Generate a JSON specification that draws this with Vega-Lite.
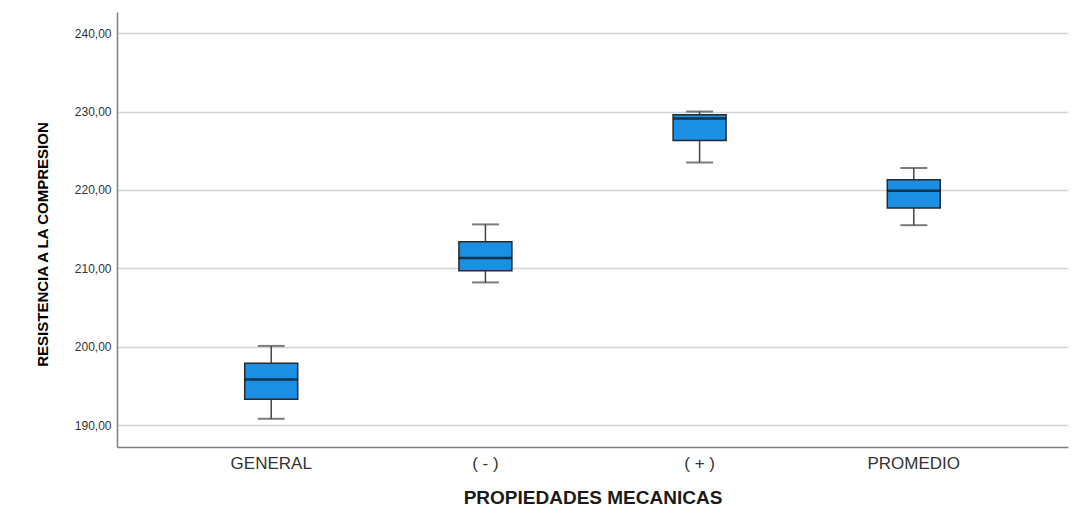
{
  "$schema": "https://vega.github.io/schema/vega-lite/v6.json",
  "autosize": "none",
  "width": 951,
  "height": 435,
  "padding": {"left": 117, "top": 12, "right": 12, "bottom": 71},
  "background": "white",
  "config": {
    "view": {"stroke": null},
    "font": "Liberation Sans"
  },
  "data": {
    "values": [
      {"grupo": "GENERAL", "min": 190.8, "q1": 193.3, "median": 195.8, "q3": 197.9, "max": 200.1},
      {"grupo": "( - )", "min": 208.2, "q1": 209.7, "median": 211.3, "q3": 213.4, "max": 215.6},
      {"grupo": "( + )", "min": 223.5, "q1": 226.3, "median": 229.1, "q3": 229.6, "max": 230.0},
      {"grupo": "PROMEDIO", "min": 215.5, "q1": 217.7, "median": 219.9, "q3": 221.3, "max": 222.8}
    ]
  },
  "encoding": {
    "x": {
      "field": "grupo",
      "type": "nominal",
      "sort": ["GENERAL", "( - )", "( + )", "PROMEDIO"],
      "scale": {"paddingInner": 0, "paddingOuter": 0.22},
      "axis": {
        "title": "PROPIEDADES MECANICAS",
        "titleFont": "Liberation Sans",
        "titleFontSize": 19,
        "titleFontWeight": "bold",
        "titleColor": "#1a1a1a",
        "titlePadding": 17,
        "labelFont": "Liberation Sans",
        "labelFontSize": 17,
        "labelColor": "#333333",
        "labelAngle": 0,
        "labelPadding": 8,
        "ticks": false,
        "tickSize": 0,
        "domainColor": "#7f7f7f",
        "domainWidth": 1.5,
        "grid": false
      }
    }
  },
  "layer": [
    {
      "mark": {"type": "rule", "color": "#444444", "strokeWidth": 1.5},
      "encoding": {
        "y": {
          "field": "min",
          "type": "quantitative",
          "scale": {"domain": [187.2, 242.7], "nice": false, "zero": false},
          "axis": {
            "title": "RESISTENCIA A LA COMPRESION",
            "titleFont": "Liberation Sans",
            "titleFontSize": 15,
            "titleFontWeight": "bold",
            "titleColor": "#000000",
            "titlePadding": 24,
            "titleY": 232,
            "values": [190, 200, 210, 220, 230, 240],
            "labelExpr": "replace(format(datum.value, '.2f'), '.', ',')",
            "labelFont": "Liberation Sans",
            "labelFontSize": 12,
            "labelColor": "#333333",
            "labelPadding": 6,
            "ticks": false,
            "tickSize": 0,
            "domainColor": "#7f7f7f",
            "domainWidth": 1.5,
            "grid": true,
            "gridColor": "#d4d4d4",
            "gridWidth": 1.5
          }
        },
        "y2": {"field": "max"}
      }
    },
    {
      "mark": {"type": "tick", "color": "#444444", "thickness": 2, "size": 27},
      "encoding": {"y": {"field": "min", "type": "quantitative"}}
    },
    {
      "mark": {"type": "tick", "color": "#444444", "thickness": 2, "size": 27},
      "encoding": {"y": {"field": "max", "type": "quantitative"}}
    },
    {
      "mark": {"type": "bar", "size": 53, "fill": "#1a8fe3", "stroke": "#2a2a2a", "strokeWidth": 1.5},
      "encoding": {
        "y": {"field": "q1", "type": "quantitative"},
        "y2": {"field": "q3"}
      }
    },
    {
      "mark": {"type": "tick", "color": "#0d0d0d", "thickness": 2.5, "size": 53},
      "encoding": {"y": {"field": "median", "type": "quantitative"}}
    }
  ]
}
